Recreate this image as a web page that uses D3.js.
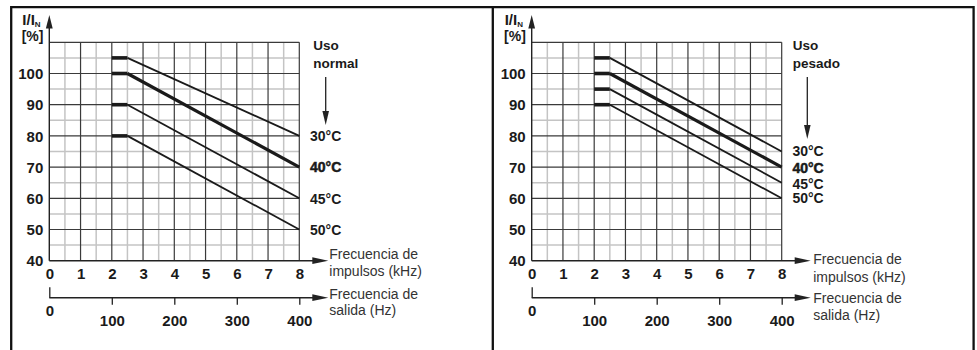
<!DOCTYPE html>
<html><head><meta charset="utf-8">
<script src="https://cdn.jsdelivr.net/npm/d3@7"></script>
<style>body{margin:0;background:#fff}svg{display:block}</style>
</head><body><svg id="c" width="977" height="350"></svg>
<script>
// ---- data ----
const kHzTicks = [0, 1, 2, 3, 4, 5, 6, 7, 8];
const hzTicks = [0, 100, 200, 300, 400];
const yTicks = [40, 50, 60, 70, 80, 90, 100];
const temps = ["30°C", "40°C", "45°C", "50°C"];
const kneeKHz = [2, 2.5, 8];            // flat start, flat end, curve end (kHz)
const normalStart = [105, 100, 90, 80];  // I/IN % on flat part, "Uso normal"
const normalEnd = [80, 70, 60, 50];      // I/IN % at 8 kHz, "Uso normal"
const heavyStart = [105, 100, 95, 90];   // "Uso pesado"
const heavyEnd = [75, 70, 65, 60];
const titleNormal = ["Uso", "normal"];
const titleHeavy = ["Uso", "pesado"];
const xLabel = ["Frecuencia de", "impulsos (kHz)"];
const hzLabel = ["Frecuencia de", "salida (Hz)"];

// ---- drawing ----
const svg = d3.select("#c");
const FONT = "'Liberation Sans', Arial, Helvetica, sans-serif";
const INK = "#1a1a1a";

// frame
svg.append("path").attr("d", "M11.2,350V7.2H973.6V350M492.8,7.2V350")
  .attr("fill", "none").attr("stroke", "#111").attr("stroke-width", 2.3);

const panels = [
  { x0: 49.3, start: normalStart, end: normalEnd, title: titleNormal,
    titleDx: 14, arrowDx: 26.4, arrowTip: 125, labDy: [0, 0, 0.5, 0.5],
    xLabY: [259.3, 276.3], hzLabY: [299.3, 314.5], labDx: 1 },
  { x0: 531.7, start: heavyStart, end: heavyEnd, title: titleHeavy,
    titleDx: 11, arrowDx: 25.6, arrowTip: 139, labDy: [0, 1, 1.5, 0],
    xLabY: [264.3, 281.7], hzLabY: [302.7, 320], labDx: 2.5 }
];

panels.forEach(p => {
  const x = d3.scaleLinear().domain([0, 8]).range([p.x0, p.x0 + 250]);
  const y = d3.scaleLinear().domain([40, 110]).range([260.7, 42.3]);
  const hz = d3.scaleLinear().domain([0, 400]).range([p.x0, p.x0 + 250]);
  const g = svg.append("g");

  // grid
  const vx = d3.range(0.5, 8.01, 0.5);
  const hy = d3.range(45, 110.01, 5);
  const minorV = vx.filter(v => v % 1 !== 0), majorV = vx.filter(v => v % 1 === 0);
  const minorH = hy.filter(v => v % 10 !== 0), majorH = hy.filter(v => v % 10 === 0);
  g.selectAll(".mv").data(minorV).join("line")
    .attr("x1", d => x(d)).attr("x2", d => x(d)).attr("y1", y(40)).attr("y2", y(110))
    .attr("stroke", "#c4c4c4").attr("stroke-width", 1.5);
  g.selectAll(".mh").data(minorH).join("line")
    .attr("y1", d => y(d)).attr("y2", d => y(d)).attr("x1", x(0)).attr("x2", x(8))
    .attr("stroke", "#c4c4c4").attr("stroke-width", 1.5);
  g.selectAll(".Mv").data(majorV).join("line")
    .attr("x1", d => x(d)).attr("x2", d => x(d)).attr("y1", y(40)).attr("y2", y(110))
    .attr("stroke", "#3a3a3a").attr("stroke-width", 1.2);
  g.selectAll(".Mh").data(majorH).join("line")
    .attr("y1", d => y(d)).attr("y2", d => y(d)).attr("x1", x(0)).attr("x2", x(8))
    .attr("stroke", "#3a3a3a").attr("stroke-width", 1.2);

  // axes lines + arrows
  const tipX = x(8) + 29;
  g.append("line").attr("x1", x(0)).attr("x2", tipX - 10).attr("y1", y(40)).attr("y2", y(40))
    .attr("stroke", "#222").attr("stroke-width", 1.4);
  g.append("path").attr("d", `M${tipX},${y(40)}L${tipX - 16},${y(40) - 3.4}L${tipX - 16},${y(40) + 3.4}Z`).attr("fill", "#222");
  g.append("line").attr("x1", x(0)).attr("x2", x(0)).attr("y1", y(40)).attr("y2", 25)
    .attr("stroke", "#222").attr("stroke-width", 1.4);
  g.append("path").attr("d", `M${x(0)},15L${x(0) - 3.4},28.5L${x(0) + 3.4},28.5Z`).attr("fill", "#222");

  // Hz axis
  const hzY = 297.7;
  g.append("line").attr("x1", hz(0)).attr("x2", tipX - 10).attr("y1", hzY).attr("y2", hzY)
    .attr("stroke", "#222").attr("stroke-width", 1.4);
  g.append("path").attr("d", `M${tipX},${hzY}L${tipX - 16},${hzY - 3.4}L${tipX - 16},${hzY + 3.4}Z`).attr("fill", "#222");

  // tick labels via d3 axes
  const ax = g.append("g").attr("transform", `translate(0,${y(40)})`)
    .call(d3.axisBottom(x).tickValues(kHzTicks).tickSize(0).tickPadding(8));
  const ay = g.append("g").attr("transform", `translate(${x(0)},0)`)
    .call(d3.axisLeft(y).tickValues(yTicks).tickSize(0).tickPadding(6));
  const ah = g.append("g").attr("transform", `translate(0,${hzY})`)
    .call(d3.axisBottom(hz).tickValues(hzTicks).tickSize(7).tickPadding(11).tickFormat(d3.format("d")));
  [ax, ay, ah].forEach(a => {
    a.select(".domain").remove();
    a.selectAll("text").attr("font-family", FONT).attr("font-weight", "bold")
      .attr("font-size", 15).attr("fill", INK);
  });
  ay.selectAll("text").attr("dy", "0.35em");
  ah.selectAll("line").attr("stroke", "#222").attr("stroke-width", 1.3);
  ah.selectAll(".tick").filter(d => d === 0).each(function () {
    const t = d3.select(this);
    t.select("line").attr("y2", -10.5);
    t.select("text").attr("y", 7.5);
  });

  // axis titles
  const yt = g.append("text").attr("x", x(0) - 27).attr("y", 25)
    .attr("font-family", FONT).attr("font-weight", "bold").attr("font-size", 15).attr("fill", INK);
  yt.append("tspan").text("I/I");
  yt.append("tspan").attr("font-size", 8).attr("dy", 1.5).text("N");
  g.append("text").attr("x", x(0) - 27.6).attr("y", 41.2).text("[%]")
    .attr("font-family", FONT).attr("font-weight", "bold").attr("font-size", 14).attr("fill", INK);

  g.selectAll(".xl").data(xLabel).join("text")
    .attr("x", tipX + p.labDx).attr("y", (d, i) => p.xLabY[i]).text(d => d)
    .attr("font-family", FONT).attr("font-size", 14).attr("fill", "#333");
  g.selectAll(".hl").data(hzLabel).join("text")
    .attr("x", tipX + p.labDx).attr("y", (d, i) => p.hzLabY[i]).text(d => d)
    .attr("font-family", FONT).attr("font-size", 14).attr("fill", "#333");

  // title + down arrow
  g.selectAll(".tt").data(p.title).join("text")
    .attr("x", x(8) + p.titleDx).attr("y", (d, i) => 50 + i * 18).text(d => d)
    .attr("font-family", FONT).attr("font-weight", "bold").attr("font-size", 13.5).attr("fill", INK);
  const ax2 = x(8) + p.arrowDx;
  g.append("line").attr("x1", ax2).attr("x2", ax2).attr("y1", 77).attr("y2", p.arrowTip - 8)
    .attr("stroke", "#222").attr("stroke-width", 1.3);
  g.append("path").attr("d", `M${ax2},${p.arrowTip}L${ax2 - 3.3},${p.arrowTip - 14}L${ax2 + 3.3},${p.arrowTip - 14}Z`).attr("fill", "#222");

  // curves
  const series = temps.map((t, i) => ({
    name: t, thick: t === "40°C",
    pts: [[kneeKHz[0], p.start[i]], [kneeKHz[1], p.start[i]], [kneeKHz[2], p.end[i]]]
  }));
  const line = d3.line().x(d => x(d[0])).y(d => y(d[1]));
  g.selectAll(".flat").data(series).join("path")
    .attr("d", d => line(d.pts.slice(0, 2)))
    .attr("stroke", INK).attr("stroke-width", 3.6).attr("fill", "none");
  g.selectAll(".crv").data(series).join("path")
    .attr("d", d => line(d.pts.slice(1)))
    .attr("stroke", INK).attr("stroke-width", d => d.thick ? 3.2 : 1.8).attr("fill", "none");
  g.selectAll(".tl").data(series).join("text")
    .attr("x", x(8) + 10.7).attr("y", (d, i) => y(d.pts[2][1]) + p.labDy[i]).attr("dy", "0.35em")
    .text(d => d.name)
    .attr("font-family", FONT).attr("font-weight", "bold").attr("font-size", 14).attr("fill", INK)
    .attr("stroke", d => d.thick ? INK : "none").attr("stroke-width", 0.5);
});
</script></body></html>
